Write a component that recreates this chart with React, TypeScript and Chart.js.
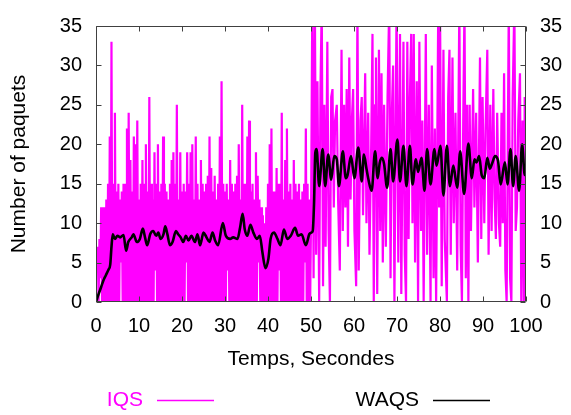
import { useEffect, useRef } from "react";
import { Chart, registerables } from "chart.js";

Chart.register(...registerables);

const FONT_FAMILY = "'Liberation Sans', Arial, Helvetica, sans-serif";

const seriesLabels = ["IQS", "WAQS"];
const seriesColors = ["#ff00ff", "#000000"];

const xTickValues = [0, 10, 20, 30, 40, 50, 60, 70, 80, 90, 100];
const yTickValues = [0, 5, 10, 15, 20, 25, 30, 35];

const xTitle = "Temps, Secondes";
const yTitle = "Number of paquets";

// IQS queue length over the first 50 s, one sample every 0.2 s
const iqsStep = 0.2;
const iqsFirstHalf = [
  7, 4, 7, 0, 8, 3, 12, 0, 12, 0, 12, 0, 13, 0, 15, 0, 21, 0, 33, 0,
  15, 0, 24, 0, 14, 0, 15, 0, 13, 5, 14, 0, 15, 0, 15, 0, 22, 0, 24, 0,
  18, 0, 14, 0, 21, 0, 20, 0, 23, 0, 13, 0, 15, 0, 18, 0, 15, 0, 20, 0,
  14, 0, 26, 0, 15, 0, 13, 0, 19, 4, 15, 0, 20, 0, 14, 0, 15, 0, 21, 0,
  15, 0, 14, 0, 13, 0, 15, 0, 18, 0, 19, 0, 15, 0, 25, 0, 13, 0, 19, 0,
  14, 0, 15, 0, 14, 5, 19, 0, 15, 0, 19, 0, 20, 0, 13, 0, 21, 0, 15, 0,
  13, 0, 18, 0, 15, 0, 14, 0, 15, 0, 16, 0, 21, 0, 17, 0, 14, 0, 16, 0,
  13, 0, 15, 0, 21, 0, 28, 0, 15, 0, 14, 0, 15, 4, 13, 0, 18, 0, 15, 0,
  14, 0, 15, 0, 16, 0, 20, 0, 13, 0, 25, 0, 15, 0, 15, 0, 21, 0, 23, 0,
  14, 0, 15, 0, 13, 0, 19, 0, 16, 5, 13, 0, 12, 0, 11, 0, 10, 0, 12, 0,
  15, 0, 20, 0, 22, 0, 14, 0, 14, 0, 17, 0, 15, 4, 15, 0, 24, 0, 13, 0,
  18, 0, 22, 0, 14, 0, 15, 0, 13, 0, 18, 0, 15, 0, 14, 0, 15, 0, 13, 0,
  14, 0, 15, 5, 22, 0, 15, 0, 13, 0,
];

// IQS after the load change at 50 s: [time (s), packets]
const iqsSecondHalf: [number, number][] = [
  [50.0, 10], [50.3, 38], [50.6, 3], [50.9, 38], [51.2, 6], [51.5, 28], [51.9, 0], [52.2, 27],
  [52.5, 38], [52.8, 2], [53.1, 25], [53.4, 7], [53.8, 33], [54.1, 9], [54.4, 0], [54.7, 26],
  [55.0, 27], [55.3, 12], [55.6, 23], [56.0, 25], [56.3, 13], [56.7, 4], [57.1, 32], [57.4, 9],
  [57.7, 25], [58.0, 12], [58.3, 27], [58.6, 7], [58.9, 31], [59.2, 13], [59.5, 23], [59.8, 27],
  [60.1, 9], [60.5, 2], [60.8, 38], [61.1, 4], [61.5, 23], [61.8, 26], [62.1, 11], [62.4, 22],
  [62.6, 29], [62.9, 10], [63.3, 24], [63.6, 6], [64.0, 20], [64.3, 34], [64.6, 0], [64.9, 25],
  [65.1, 31], [65.4, 1], [65.8, 32], [66.1, 9], [66.4, 29], [66.7, 5], [67.0, 25], [67.4, 7],
  [67.8, 26], [68.2, 38], [68.5, 3], [68.8, 24], [69.1, 30], [69.4, 0], [69.9, 38], [70.3, 5],
  [70.7, 34], [71.0, 1], [71.5, 33], [71.8, 6], [72.1, 0], [72.4, 33], [72.7, 8], [73.0, 26],
  [73.3, 34], [73.6, 10], [73.9, 34], [74.2, 5], [74.6, 28], [74.9, 0], [75.2, 33], [75.6, 9],
  [75.9, 23], [76.2, 0], [76.7, 34], [77.0, 6], [77.4, 25], [77.8, 0], [78.1, 30], [78.5, 3],
  [78.8, 22], [79.1, 0], [79.6, 38], [79.8, 12], [80.0, 38], [80.4, 2], [80.8, 32], [81.1, 8],
  [81.6, 0], [81.9, 26], [82.2, 32], [82.5, 6], [82.9, 31], [83.2, 10], [83.6, 24], [84.0, 4],
  [84.5, 38], [84.8, 7], [85.1, 0], [85.4, 23], [85.7, 38], [86.0, 3], [86.3, 25], [86.6, 0],
  [86.9, 25], [87.2, 9], [87.7, 27], [88.0, 12], [88.4, 24], [88.8, 5], [89.3, 31], [89.6, 8],
  [89.9, 26], [90.3, 10], [90.6, 22], [91.0, 32], [91.3, 6], [91.7, 25], [92.0, 9], [92.4, 27],
  [92.7, 13], [93.0, 8], [93.3, 24], [93.7, 10], [94.0, 7], [94.3, 24], [94.6, 10], [94.9, 29],
  [95.2, 4], [95.5, 0], [96.0, 38], [96.3, 3], [96.6, 0], [96.9, 26], [97.3, 38], [97.6, 9],
  [97.9, 12], [98.2, 23], [98.6, 29], [98.9, 0], [99.2, 23], [99.5, 0], [99.7, 26], [100.0, 2],
];

// WAQS averaged queue length: [time (s), packets]
const waqsSeries: [number, number][] = [
  [0, 0], [0.6, 1.0], [1.2, 1.9], [1.7, 2.7], [2.3, 3.4], [2.9, 4.1], [3.3, 4.7], [3.6, 7.0],
  [3.9, 8.6], [4.4, 8.0], [5.0, 8.4], [5.6, 8.2], [6.4, 8.5], [7.0, 6.5], [7.5, 7.6], [8.3, 8.2],
  [8.7, 8.6], [9.5, 7.6], [10.2, 8.0], [10.9, 9.3], [11.4, 8.2], [11.9, 7.2], [12.6, 8.6], [13.3, 9.0],
  [14.0, 8.4], [14.5, 8.8], [15.0, 8.0], [15.7, 8.6], [16.1, 9.6], [16.6, 8.6], [17.2, 7.2], [17.8, 7.6],
  [18.6, 9.0], [19.1, 8.6], [19.7, 8.2], [20.3, 7.6], [20.9, 8.4], [21.5, 7.8], [22.2, 8.4], [23.0, 7.6],
  [23.6, 8.6], [24.2, 7.2], [25.0, 8.8], [25.7, 8.2], [26.4, 7.6], [27.1, 8.8], [27.7, 7.8], [28.4, 7.2],
  [29.5, 10.0], [30.2, 8.4], [31.2, 8.0], [31.9, 8.2], [32.9, 8.0], [33.5, 9.4], [34.1, 11.2], [34.6, 9.2],
  [35.2, 8.4], [35.9, 9.8], [36.6, 8.8], [37.4, 8.0], [38.1, 8.4], [38.7, 6.3], [39.4, 4.3], [40.1, 5.5],
  [40.6, 8.0], [41.4, 8.8], [42.2, 8.0], [42.9, 7.2], [43.7, 9.2], [44.5, 8.0], [45.3, 8.4], [46.3, 9.4],
  [47.0, 8.4], [47.8, 8.6], [48.8, 7.2], [49.6, 8.6], [50.1, 8.8], [50.4, 9.0], [50.7, 12.4], [51.0, 18.9],
  [51.3, 19.4], [51.9, 14.7], [52.7, 19.4], [53.3, 14.7], [54.0, 18.7], [54.7, 15.5], [55.4, 18.5], [56.0, 18.1],
  [56.5, 14.7], [57.4, 19.1], [58.1, 15.7], [58.5, 16.1], [59.3, 18.5], [60.1, 15.7], [61.0, 19.6], [61.8, 15.3],
  [62.3, 18.7], [62.9, 16.9], [63.3, 15.7], [64.1, 14.1], [64.9, 19.1], [65.5, 15.7], [66.0, 17.7], [66.5, 18.3],
  [67.0, 17.5], [67.7, 14.5], [68.5, 19.4], [69.1, 15.3], [70.1, 20.6], [70.7, 15.3], [71.5, 19.8], [72.2, 14.7],
  [73.0, 19.8], [73.6, 14.9], [74.4, 18.1], [74.9, 16.5], [75.7, 18.3], [76.4, 14.1], [77.0, 19.4], [77.8, 14.9],
  [78.7, 19.4], [79.2, 17.3], [80.1, 19.8], [80.8, 13.5], [81.6, 19.8], [82.3, 14.7], [83.1, 17.3], [84.0, 14.5],
  [84.7, 19.1], [85.6, 13.7], [86.6, 20.1], [87.4, 15.7], [88.0, 18.1], [88.5, 17.7], [89.1, 18.5], [89.7, 16.1],
  [90.3, 15.7], [91.0, 18.3], [91.6, 16.9], [92.2, 17.7], [92.8, 18.5], [93.5, 17.9], [94.1, 14.9], [95.1, 17.7],
  [95.7, 14.9], [96.4, 19.4], [97.0, 14.7], [97.6, 18.5], [98.4, 14.1], [99.1, 20.0], [99.7, 16.1], [100.0, 16.3],
];

const WIDTH = 571;
const HEIGHT = 415;

// Border around the plot with short inward tick marks on all four sides,
// plus a key below the axis (label text followed by a line sample).
const frameAndKey = {
  id: "frameAndKey",
  afterDatasetsDraw(chart: any) {
    const { ctx, chartArea: a, scales } = chart;
    const L = Math.round(a.left) + 0.5;
    const R = Math.round(a.right) - 0.5;
    const T = Math.round(a.top) + 0.5;
    const B = Math.round(a.bottom) - 0.5;
    const len = 5;
    ctx.save();
    ctx.strokeStyle = "#404040";
    ctx.lineWidth = 1;
    ctx.beginPath();
    ctx.rect(L, T, R - L, B - T);
    for (const v of xTickValues) {
      const px = Math.round(scales.x.getPixelForValue(v)) + 0.5;
      ctx.moveTo(px, B);
      ctx.lineTo(px, B - len);
      ctx.moveTo(px, T);
      ctx.lineTo(px, T + len);
    }
    for (const v of yTickValues) {
      const py = Math.round(scales.y.getPixelForValue(v)) + 0.5;
      ctx.moveTo(L, py);
      ctx.lineTo(L + len, py);
      ctx.moveTo(R, py);
      ctx.lineTo(R - len, py);
    }
    ctx.stroke();
    ctx.restore();
  },
  afterDraw(chart: any) {
    const { ctx } = chart;
    const entries = [
      { textRight: 143, lineFrom: 157, lineTo: 214 },
      { textRight: 419, lineFrom: 433, lineTo: 490 },
    ];
    const y = 400;
    ctx.save();
    ctx.font = `21px ${FONT_FAMILY}`;
    ctx.textAlign = "right";
    ctx.textBaseline = "middle";
    seriesLabels.forEach((label, i) => {
      const e = entries[i];
      ctx.fillStyle = seriesColors[i];
      ctx.fillText(label, e.textRight, y);
      ctx.strokeStyle = seriesColors[i];
      ctx.lineWidth = 1.5;
      ctx.beginPath();
      ctx.moveTo(e.lineFrom, y + 0.5);
      ctx.lineTo(e.lineTo, y + 0.5);
      ctx.stroke();
    });
    ctx.restore();
  },
};

export default function App() {
  const canvasRef = useRef<HTMLCanvasElement | null>(null);

  useEffect(() => {
    const canvas = canvasRef.current;
    if (!canvas) return;

    const iqsPoints = [
      ...iqsFirstHalf.map((v, i) => ({ x: Math.round(i * iqsStep * 10) / 10, y: v })),
      ...iqsSecondHalf.map(([x, y]) => ({ x, y })),
    ];
    const waqsPoints = waqsSeries.map(([x, y]) => ({ x, y }));

    const tickFont = { family: FONT_FAMILY, size: 20 };
    const titleFont = { family: FONT_FAMILY, size: 21 };
    const yTicks = (s: any) => {
      s.ticks = yTickValues.map((value) => ({ value }));
    };

    const chart = new Chart(canvas, {
      type: "line",
      data: {
        datasets: [
          {
            label: seriesLabels[1],
            data: waqsPoints,
            borderColor: seriesColors[1],
            backgroundColor: seriesColors[1],
            borderWidth: 2.6,
            pointRadius: 0,
            cubicInterpolationMode: "monotone",
            order: 0,
          },
          {
            label: seriesLabels[0],
            data: iqsPoints,
            borderColor: seriesColors[0],
            backgroundColor: seriesColors[0],
            borderWidth: 2.2,
            borderJoinStyle: "bevel",
            pointRadius: 0,
            order: 1,
          },
        ],
      },
      options: {
        responsive: false,
        animation: false,
        devicePixelRatio: 1,
        layout: { padding: { top: 15, left: 0, right: 0, bottom: 0 } },
        plugins: { legend: { display: false }, tooltip: { enabled: false } },
        events: [],
        scales: {
          x: {
            type: "linear",
            position: "bottom",
            min: 0,
            max: 100,
            afterBuildTicks: (s: any) => {
              s.ticks = xTickValues.map((value) => ({ value }));
            },
            afterFit: (s: any) => {
              s.height = 113;
            },
            grid: { display: false, drawTicks: false },
            border: { display: false },
            ticks: { padding: 12, color: "#000", font: tickFont, autoSkip: false, maxRotation: 0 },
            title: {
              display: true,
              text: xTitle,
              color: "#000",
              font: titleFont,
              padding: { top: 0, bottom: 43 },
            },
          },
          y: {
            type: "linear",
            position: "left",
            min: 0,
            max: 35,
            afterBuildTicks: yTicks,
            afterFit: (s: any) => {
              s.width = 96;
            },
            grid: { display: false, drawTicks: false },
            border: { display: false },
            ticks: { padding: 14, color: "#000", font: tickFont },
            title: {
              display: true,
              text: yTitle,
              color: "#000",
              font: titleFont,
              padding: { top: 7, bottom: 0 },
            },
          },
          y2: {
            type: "linear",
            position: "right",
            min: 0,
            max: 35,
            afterBuildTicks: yTicks,
            afterFit: (s: any) => {
              s.width = 45;
            },
            grid: { display: false, drawTicks: false },
            border: { display: false },
            ticks: { padding: 14, color: "#000", font: tickFont },
          },
        },
      },
      plugins: [frameAndKey],
    } as any);

    return () => chart.destroy();
  }, []);

  return (
    <div style={{ position: "fixed", left: 0, top: 0, width: WIDTH, height: HEIGHT, background: "#fff" }}>
      <canvas ref={canvasRef} width={WIDTH} height={HEIGHT} style={{ display: "block" }} />
    </div>
  );
}
